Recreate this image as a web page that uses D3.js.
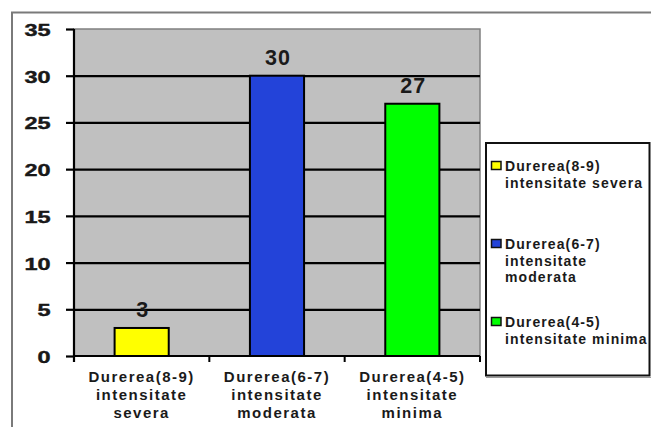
<!DOCTYPE html>
<html>
<head>
<meta charset="utf-8">
<script src="https://cdn.jsdelivr.net/npm/d3@7"></script>
<style>
  html, body { margin: 0; padding: 0; background: #fff; }
  svg { display: block; }
  text { font-family: "Liberation Sans", Arial, sans-serif; font-weight: bold; fill: #1a1a1a; }
</style>
</head>
<body>
<svg id="chart" width="651" height="427"></svg>
<script>
// Pain intensity groups and patient counts
const categories = ["Durerea(8-9) intensitate severa", "Durerea(6-7) intensitate moderata", "Durerea(4-5) intensitate minima"];
const axisLines = [["Durerea(8-9)", "intensitate", "severa"], ["Durerea(6-7)", "intensitate", "moderata"], ["Durerea(4-5)", "intensitate", "minima"]];
const legendLines = [["Durerea(8-9)", "intensitate severa"], ["Durerea(6-7)", "intensitate", "moderata"], ["Durerea(4-5)", "intensitate minima"]];
const values = [3, 30, 27];
const colors = ["#ffff00", "#2343d9", "#00ff00"];
const yTicks = [0, 5, 10, 15, 20, 25, 30, 35];

const svg = d3.select("#chart");
const plot = { left: 74, right: 480, top: 29, bottom: 356 };

// outer frame (runs past the right and bottom edges)
svg.append("rect")
  .attr("x", 12).attr("y", 12.5).attr("width", 660).attr("height", 440)
  .attr("fill", "none").attr("stroke", "#7a7a7a").attr("stroke-width", 2);

const x = d3.scaleBand().domain(categories).range([plot.left, plot.right]).padding(0);
const y = d3.scaleLinear().domain([0, 35]).range([plot.bottom, plot.top]);

// plot background
svg.append("rect")
  .attr("x", plot.left).attr("y", plot.top)
  .attr("width", plot.right - plot.left).attr("height", plot.bottom - plot.top)
  .attr("fill", "#c0c0c0").attr("stroke", "#808080").attr("stroke-width", 1.5);

// horizontal gridlines
svg.append("g")
  .attr("transform", `translate(${plot.left},0)`)
  .call(d3.axisLeft(y).tickValues(yTicks.filter(t => t > 0 && t < 35))
    .tickSize(-(plot.right - plot.left)).tickFormat(""))
  .call(g => g.select(".domain").remove())
  .call(g => g.selectAll("line").attr("stroke", "#000").attr("stroke-width", 2.2));

// bars
const barW = x.bandwidth() * 0.4;
svg.append("g").selectAll("rect")
  .data(values)
  .join("rect")
  .attr("x", (d, i) => x(categories[i]) + (x.bandwidth() - barW) / 2)
  .attr("y", d => y(d))
  .attr("width", barW)
  .attr("height", d => y(0) - y(d))
  .attr("fill", (d, i) => colors[i])
  .attr("stroke", "#000").attr("stroke-width", 2);

// value labels
svg.append("g").selectAll("text")
  .data(values)
  .join("text")
  .attr("x", (d, i) => x(categories[i]) + x.bandwidth() / 2 + 1)
  .attr("y", d => y(d) - 11)
  .attr("text-anchor", "middle")
  .attr("font-size", 21.5)
  .attr("letter-spacing", 1)
  .text(d => d);

// y axis
const yAxis = svg.append("g")
  .attr("transform", `translate(${plot.left},0)`)
  .call(d3.axisLeft(y).tickValues(yTicks).tickSize(8).tickSizeOuter(0).tickPadding(0));
yAxis.select(".domain").attr("stroke", "#000").attr("stroke-width", 2.2)
  .attr("d", `M0,${plot.top}V${plot.bottom + 6}`);
yAxis.selectAll(".tick line").attr("stroke", "#000").attr("stroke-width", 2.2);
yAxis.selectAll(".tick text")
  .attr("x", 0).attr("dy", 6.5)
  .attr("text-anchor", "end")
  .attr("transform", "translate(-23.5,0) scale(1.38,1)")
  .attr("font-size", 17)
  .attr("stroke", "#111").attr("stroke-width", 0.4)
  .attr("font-family", "'Liberation Sans', Arial, sans-serif")
  .attr("fill", "#111");

// x axis with ticks on band boundaries
const xAxis = svg.append("g")
  .attr("transform", `translate(0,${plot.bottom})`);
xAxis.append("line")
  .attr("x1", plot.left).attr("x2", plot.right)
  .attr("stroke", "#000").attr("stroke-width", 2.2);
xAxis.selectAll("line.tick")
  .data(categories.slice(1).concat([null]))
  .join("line")
  .attr("class", "tick")
  .attr("x1", (d, i) => i < categories.length - 1 ? x(d) : plot.right)
  .attr("x2", (d, i) => i < categories.length - 1 ? x(d) : plot.right)
  .attr("y1", 0).attr("y2", 6)
  .attr("stroke", "#000").attr("stroke-width", 2);

// category labels
const catLabel = svg.append("g").selectAll("text")
  .data(categories)
  .join("text")
  .attr("text-anchor", "middle")
  .attr("font-size", 15)
  .attr("letter-spacing", 1.5)
  .attr("fill", "#222");
catLabel.each(function (d, i) {
  const cx = x(d) + x.bandwidth() / 2;
  d3.select(this).selectAll("tspan")
    .data(axisLines[i])
    .join("tspan")
    .attr("x", cx)
    .attr("y", (t, j) => 381.5 + j * 18.3)
    .text(t => t);
});

// legend
const legend = svg.append("g");
legend.append("rect")
  .attr("x", 486).attr("y", 143).attr("width", 163.5).attr("height", 232.5)
  .attr("fill", "#fff").attr("stroke", "#111").attr("stroke-width", 2);
legend.append("line")
  .attr("x1", 486).attr("x2", 651).attr("y1", 377.5).attr("y2", 377.5)
  .attr("stroke", "#9a9a9a").attr("stroke-width", 1);
const itemY = [171, 249, 327];
categories.forEach((c, i) => {
  legend.append("rect")
    .attr("x", 491.5).attr("y", itemY[i] - 9.5)
    .attr("width", 9.5).attr("height", 8)
    .attr("fill", colors[i]).attr("stroke", "#111").attr("stroke-width", 1.5);
  const t = legend.append("text")
    .attr("font-size", 14)
    .attr("letter-spacing", 1.1)
    .attr("fill", "#111");
  t.selectAll("tspan")
    .data(legendLines[i])
    .join("tspan")
    .attr("x", 505)
    .attr("y", (s, j) => itemY[i] + j * 16.5)
    .text(s => s);
});
</script>
</body>
</html>
